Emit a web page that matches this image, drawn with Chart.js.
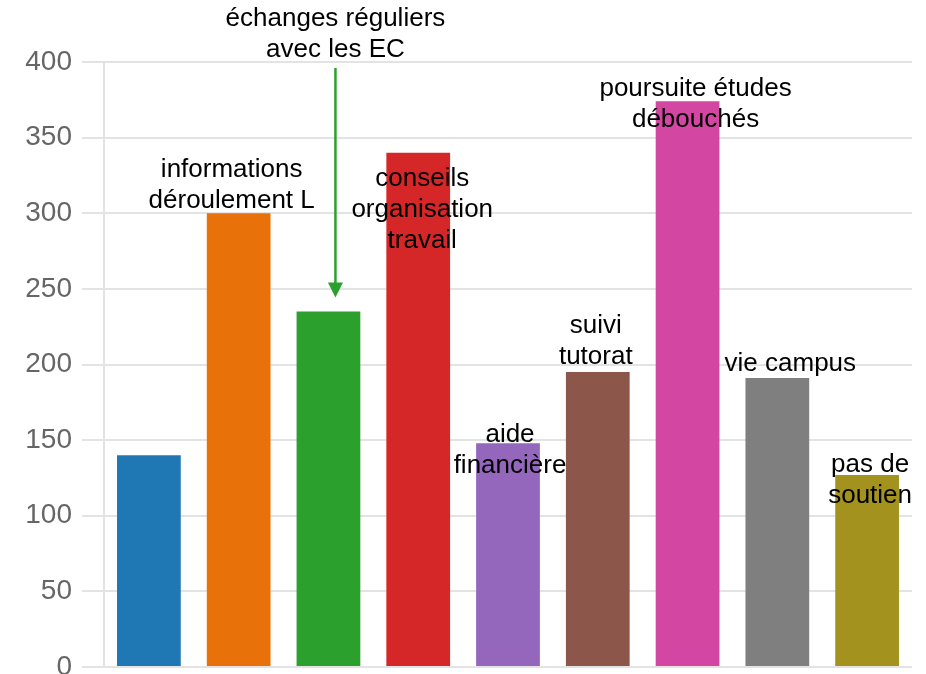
<!DOCTYPE html>
<html>
<head>
<meta charset="utf-8">
<script src="https://cdn.jsdelivr.net/npm/chart.js@4/dist/chart.umd.min.js"></script>
<style>
html,body{margin:0;padding:0;background:#fff;overflow:hidden;}
#wrap{width:926px;height:674px;position:relative;}
</style>
</head>
<body>
<div id="wrap"><canvas id="c"></canvas></div>
<script>
// ---- data ----
const categories = [
  "autre", "informations déroulement L", "échanges réguliers avec les EC",
  "conseils organisation travail", "aide financière", "suivi tutorat",
  "poursuite études débouchés", "vie campus", "pas de soutien"
];
const values = [140, 300, 235, 340, 148, 195, 374, 191, 127];
const barColors = ["#1f77b4", "#e8710a", "#2ca02c", "#d62728", "#9467bd", "#8c564b", "#d347a3", "#7f7f7f", "#a3921d"];
const yTicks = [0, 50, 100, 150, 200, 250, 300, 350, 400];

// annotation texts (bar index -> lines)
const labelBars  = [1, 3, 4, 5, 6, 7, 8];
const labelTexts = [
  ["informations", "déroulement L"],
  ["conseils", "organisation", "travail"],
  ["aide", "financière"],
  ["suivi", "tutorat"],
  ["poursuite études", "débouchés"],
  ["vie campus"],
  ["pas de", "soutien"]
];
// style offsets (px) of first line centre relative to bar top / centre
const labelDx = [-7, 4, 2, -2, 8, 13, 3];
const labelDy = [-43, 26, -8, -46, -12, -14, -10];
const arrowBar = 2;
const arrowText = ["échanges réguliers", "avec les EC"];

const annot = {
  id: "annot",
  afterDatasetsDraw(chart) {
    const {ctx, chartArea} = chart;
    const xs = chart.scales.x, ys = chart.scales.y;
    ctx.save();
    ctx.font = "26px 'Liberation Sans', Arial, sans-serif";
    ctx.fillStyle = "#000";
    ctx.textAlign = "center";
    ctx.textBaseline = "middle";
    const lh = 31;
    labelBars.forEach((b, k) => {
      const cx = xs.getPixelForValue(b) + labelDx[k];
      const top = ys.getPixelForValue(values[b]) + labelDy[k];
      labelTexts[k].forEach((t, j) => ctx.fillText(t, cx, top + j * lh));
    });
    // arrow annotation
    const ax = xs.getPixelForValue(arrowBar) + 7;
    const ty = chartArea.top - 43;
    arrowText.forEach((t, j) => ctx.fillText(t, ax, ty + j * lh));
    const tip = ys.getPixelForValue(values[arrowBar]) - 14;
    const startY = chartArea.top + 6;
    const head = 15;
    ctx.strokeStyle = "#2ca02c";
    ctx.fillStyle = "#2ca02c";
    ctx.lineWidth = 2.5;
    ctx.beginPath();
    ctx.moveTo(ax, startY);
    ctx.lineTo(ax, tip - head + 2);
    ctx.stroke();
    ctx.beginPath();
    ctx.moveTo(ax - 7.5, tip - head);
    ctx.lineTo(ax + 7.5, tip - head);
    ctx.lineTo(ax, tip);
    ctx.closePath();
    ctx.fill();
    ctx.restore();
  }
};

new Chart(document.getElementById("c"), {
  type: "bar",
  data: {
    labels: categories,
    datasets: [{
      data: values,
      backgroundColor: barColors,
      borderWidth: 0,
      categoryPercentage: 1.0,
      barPercentage: 0.71
    }]
  },
  options: {
    responsive: true,
    maintainAspectRatio: false,
    animation: false,
    layout: {padding: {top: 62, right: 14, bottom: 7, left: 0}},
    plugins: {legend: {display: false}, tooltip: {enabled: false}},
    scales: {
      x: {display: false},
      y: {
        min: 0, max: 400,
        afterBuildTicks(scale) { scale.ticks = yTicks.map(v => ({value: v})); },
        afterFit(scale) { scale.width = 104; scale.paddingBottom = 0; scale.paddingTop = 0; },
        ticks: {
          color: "#666",
          padding: 10,
          font: {family: "'Liberation Sans', Arial, sans-serif", size: 28}
        },
        grid: {color: "#e3e3e3", lineWidth: 2, tickLength: 22, drawTicks: true},
        border: {display: true, color: "#e3e3e3", width: 2}
      }
    }
  },
  plugins: [annot]
});
</script>
</body>
</html>
